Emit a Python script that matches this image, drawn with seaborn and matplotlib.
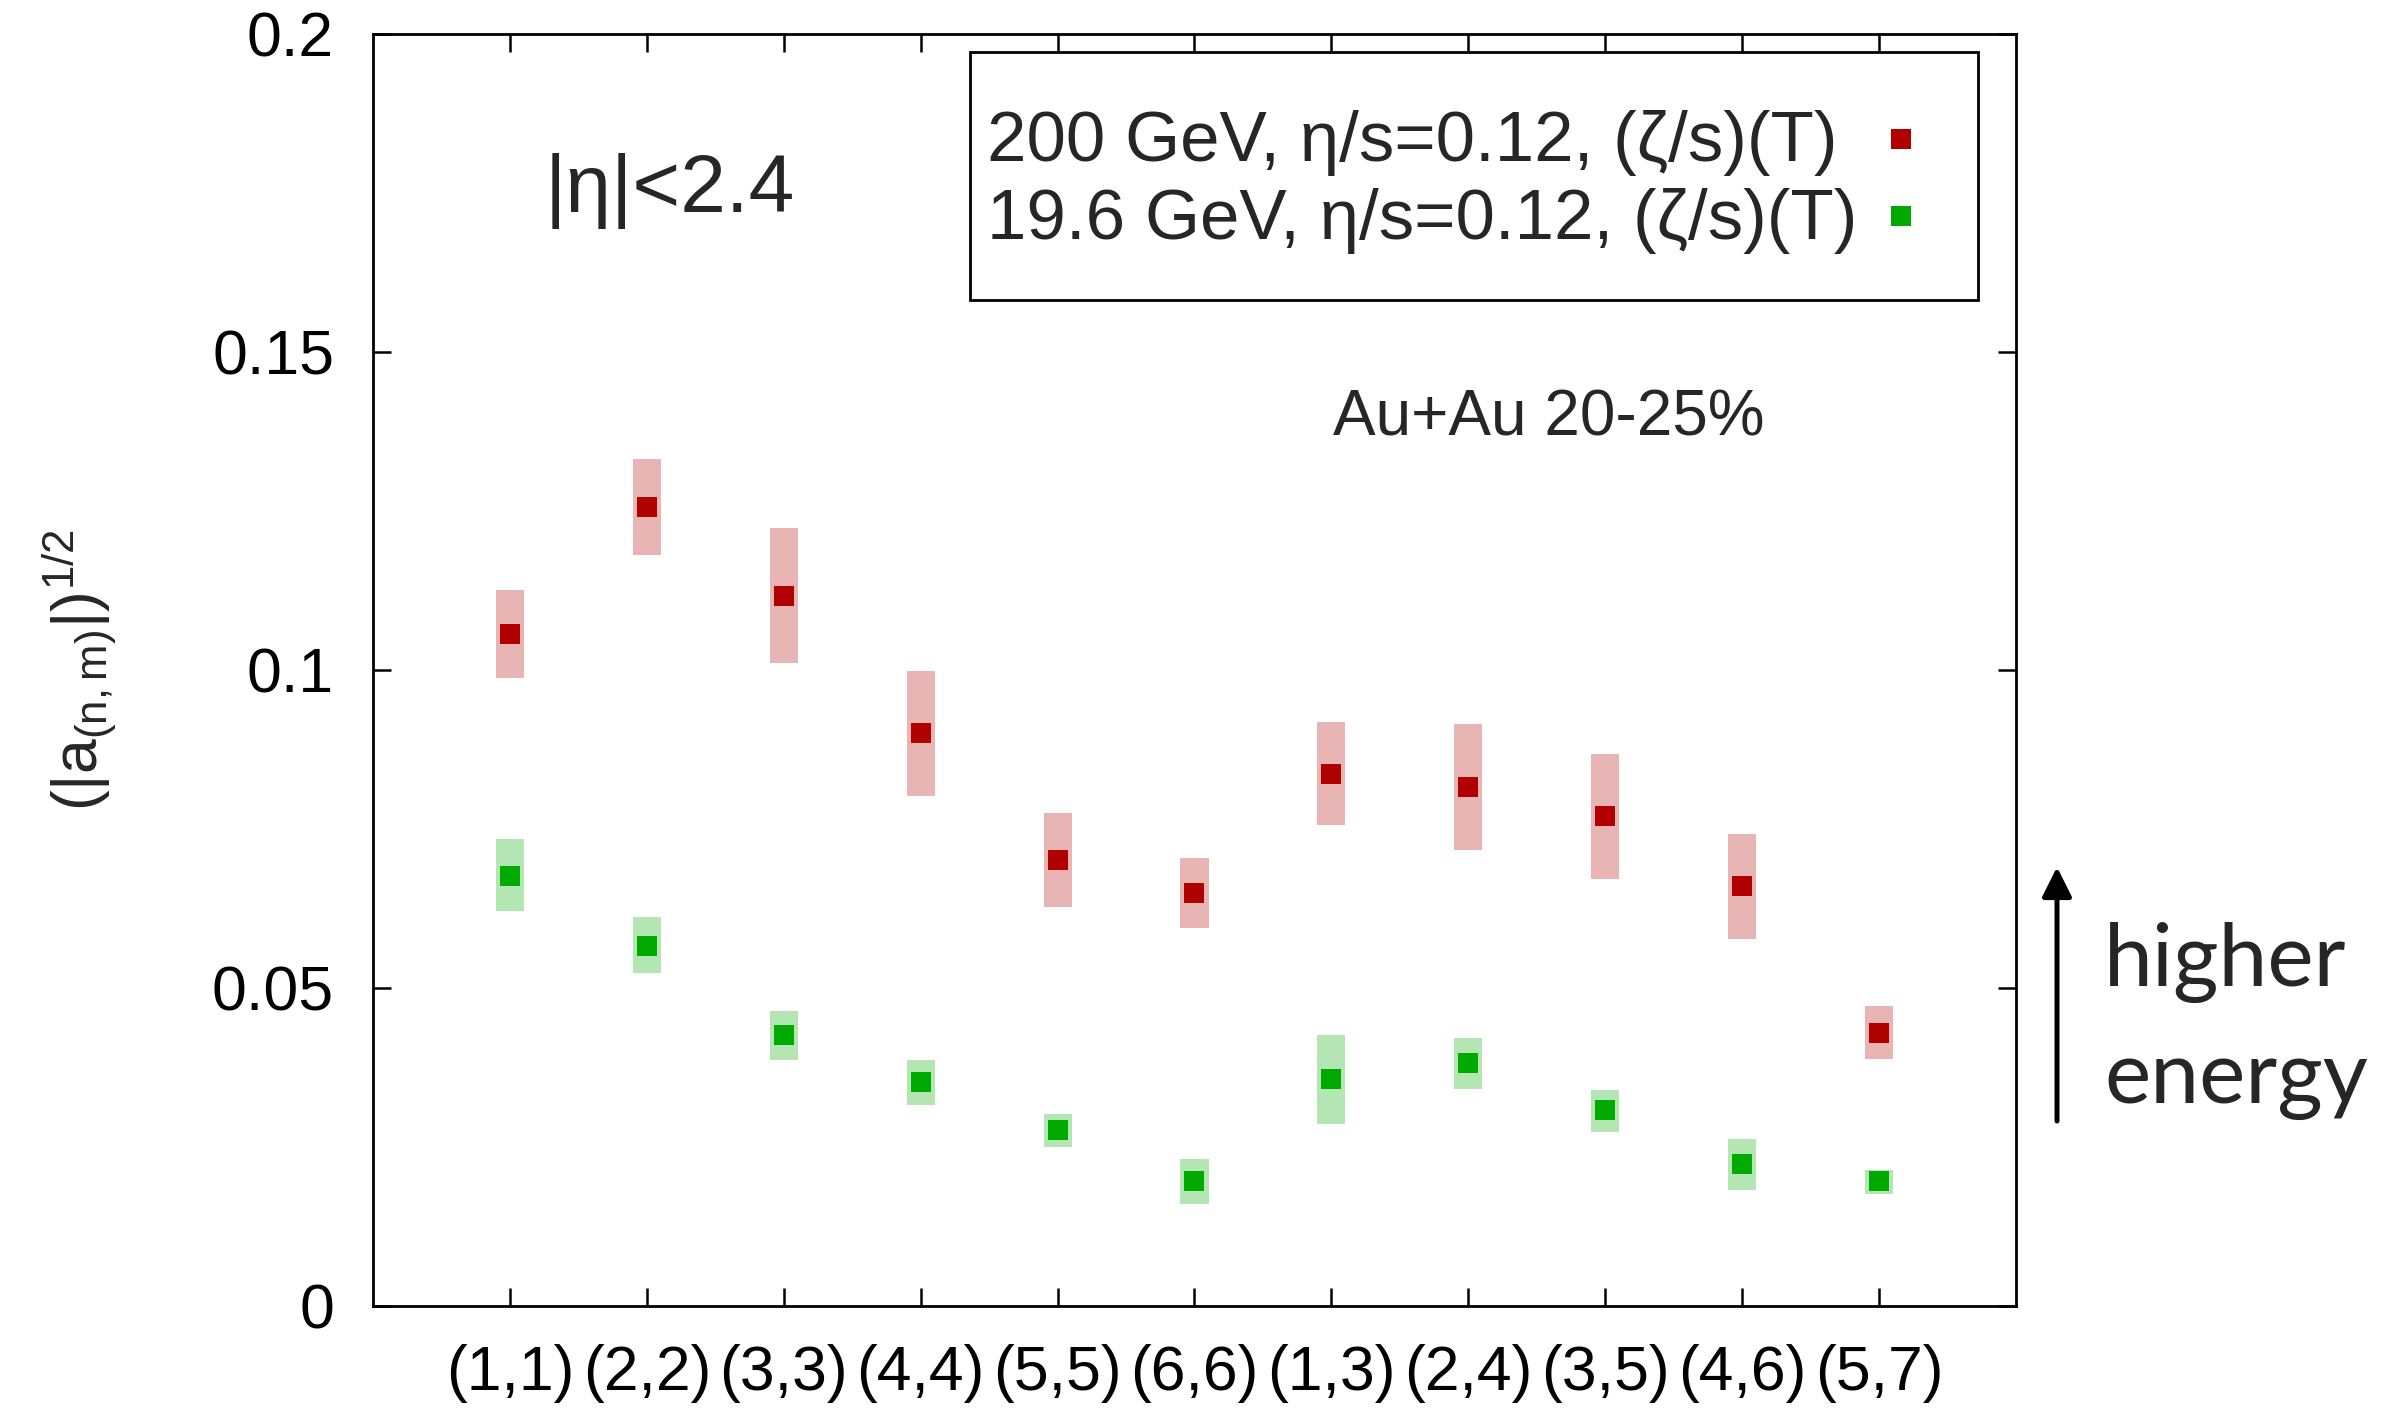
import numpy as np
import pandas as pd
import matplotlib
matplotlib.use("Agg")
import matplotlib.pyplot as plt
from matplotlib.patches import Rectangle
import seaborn as sns

# ---------------- data ----------------
pairs = ["(1,1)", "(2,2)", "(3,3)", "(4,4)", "(5,5)", "(6,6)",
         "(1,3)", "(2,4)", "(3,5)", "(4,6)", "(5,7)"]
positions = list(range(1, 12))

red_val = [0.1056, 0.1256, 0.1116, 0.0901, 0.0701, 0.0649, 0.0836, 0.0816, 0.0769, 0.0660, 0.0429]
red_lo  = [0.0987, 0.1180, 0.1011, 0.0801, 0.0626, 0.0593, 0.0755, 0.0717, 0.0670, 0.0576, 0.0388]
red_hi  = [0.1125, 0.1331, 0.1222, 0.0998, 0.0775, 0.0703, 0.0917, 0.0914, 0.0868, 0.0742, 0.0471]

green_val = [0.0676, 0.0566, 0.0425, 0.0351, 0.0276, 0.0196, 0.0356, 0.0381, 0.0307, 0.0222, 0.0196]
green_lo  = [0.0620, 0.0523, 0.0386, 0.0316, 0.0250, 0.0160, 0.0285, 0.0341, 0.0273, 0.0181, 0.0176]
green_hi  = [0.0733, 0.0611, 0.0463, 0.0386, 0.0301, 0.0231, 0.0426, 0.0420, 0.0339, 0.0262, 0.0213]

series_labels = ["200 GeV, η/s=0.12, (ζ/s)(T)", "19.6 GeV, η/s=0.12, (ζ/s)(T)"]

yticks = [0, 0.05, 0.1, 0.15, 0.2]
ytick_labels = ["0", "0.05", "0.1", "0.15", "0.2"]

# ---------------- style ----------------
sns.set_style("ticks")
plt.rcParams["font.family"] = ["Liberation Sans", "DejaVu Sans"]
plt.rcParams["mathtext.fontset"] = "custom"
plt.rcParams["mathtext.rm"] = "Liberation Sans"
plt.rcParams["mathtext.it"] = "Liberation Sans:italic"
plt.rcParams["mathtext.default"] = "rm"

RED = "#b00000"
RED_BAND = "#e8b4b4"
GREEN = "#00aa00"
GREEN_BAND = "#b4e6b4"

df_red = pd.DataFrame({"x": positions, "y": red_val})
df_green = pd.DataFrame({"x": positions, "y": green_val})

fig = plt.figure(figsize=(24.03, 14.08), dpi=100)
ax = fig.add_axes([373 / 2403, 1 - 1305.5 / 1408, (2016 - 373) / 2403, (1305.5 - 33.7) / 1408])

band_w = 0.205
ax.bar(positions, np.array(red_hi) - np.array(red_lo), bottom=red_lo, width=band_w,
       color=RED_BAND, linewidth=0, zorder=1)
ax.bar(positions, np.array(green_hi) - np.array(green_lo), bottom=green_lo, width=band_w,
       color=GREEN_BAND, linewidth=0, zorder=1)

msize = 13.9
sns.scatterplot(data=df_red, x="x", y="y", marker="s", s=msize ** 2, color=RED,
                linewidth=0, ax=ax, zorder=3, legend=False)
sns.scatterplot(data=df_green, x="x", y="y", marker="s", s=msize ** 2, color=GREEN,
                linewidth=0, ax=ax, zorder=3, legend=False)

ax.set_xlim(0, 12)
ax.set_ylim(0, 0.2)
ax.set_xticks(positions)
ax.set_xticklabels(pairs)
ax.set_yticks(yticks)
ax.set_yticklabels(ytick_labels)
ax.set_xlabel("")
ax.set_ylabel("")

for sp in ax.spines.values():
    sp.set_visible(True)
    sp.set_linewidth(2.0)
    sp.set_color("black")

ax.tick_params(axis="both", which="major", direction="in", length=13, width=1.8,
               top=True, right=True, labelsize=45, pad=28, colors="black")

# texts inside the plot
ax.text(1.25, 0.1719, "|η|<2.4", fontsize=59, va="baseline", ha="left")
ax.text(7.01, 0.1368, "Au+Au 20-25%", fontsize=46, va="baseline", ha="left")

# key (gnuplot style: left-justified text, samples in a fixed column)
def ax_x(px):
    return (px - 372.4) / 1643.6

def ax_y(py):
    return (1305.5 - py) / 1271.8

key_text_x = ax_x(987)
key_mark_x = ax_x(1901)
key_baselines = [ax_y(161), ax_y(239)]
key_marks = [ax_y(138.5), ax_y(216)]
key_colors = [RED, GREEN]
for lab, yb, ym, col in zip(series_labels, key_baselines, key_marks, key_colors):
    ax.text(key_text_x, yb, lab, transform=ax.transAxes, fontsize=51,
            ha="left", va="baseline", zorder=6)
    ax.plot([key_mark_x], [ym], transform=ax.transAxes, marker="s", ls="",
            color=col, markersize=msize, markeredgewidth=0, clip_on=False, zorder=6)
ax.add_patch(Rectangle((ax_x(970), ax_y(300)), ax_x(1978) - ax_x(970), ax_y(52) - ax_y(300),
                       transform=ax.transAxes, fill=False, ec="black", lw=2.0,
                       clip_on=False, zorder=5))

# y label
fig.text(80 / 2403, 1 - 670 / 1408, r"$(|a_{(n,m)}|)^{1/2}$", rotation=90,
         fontsize=45, ha="center", va="center")

# arrow + higher energy
ax.annotate("", xy=(2057 / 2403, 1 - 867 / 1408), xytext=(2057 / 2403, 1 - 1121 / 1408),
            xycoords="figure fraction", textcoords="figure fraction",
            arrowprops=dict(arrowstyle="-|>,head_length=0.4,head_width=0.2",
                            mutation_scale=45, lw=3.6, color="black",
                            shrinkA=0, shrinkB=0))
fig.text(2104 / 2403, 1 - 986 / 1408, "higher", fontsize=63, family="Lato",
         ha="left", va="baseline")
fig.text(2104 / 2403, 1 - 1103 / 1408, "energy", fontsize=63, family="Lato",
         ha="left", va="baseline")

fig.savefig("out.png", dpi=100)
